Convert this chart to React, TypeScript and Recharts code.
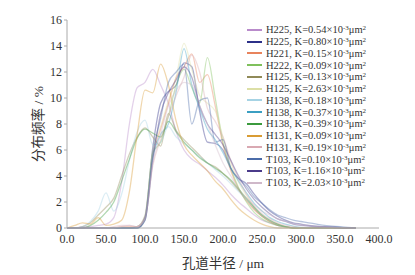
import React from 'react';
import { LineChart, Line, XAxis, YAxis, Legend } from 'recharts';

// pore radius (µm), sampled every 10 µm
const radius = [
  0, 10, 20, 30, 40, 50, 60, 70, 80, 90, 100, 110, 120, 130, 140, 150, 160, 170, 180,
  190, 200, 210, 220, 230, 240, 250, 260, 270, 280, 290, 300, 310, 320, 330, 340, 350, 360, 370,
];

const xTicks = [0, 50, 100, 150, 200, 250, 300, 350, 400];
const yTicks = [0, 2, 4, 6, 8, 10, 12, 14, 16];

// frequency (%) per sample
const h225a = [0, 0, 0.1, 0.1, 0.2, 0.3, 0.8, 3.5, 8.0, 10.8, 11.2, 12.2, 11.0, 9.6, 7.4, 6.0, 5.3, 4.9, 4.4, 3.9, 3.3, 2.6, 2.0, 1.5, 1.0, 0.6, 0.4, 0.2, 0.1, 0, 0, 0, 0, 0, 0, 0, 0, 0];
const h225b = [0, 0, 0, 0, 0, 0, 0, 0, 0, 0.1, 0.9, 6.2, 9.6, 10.5, 11.0, 12.7, 12.4, 9.0, 6.6, 6.5, 6.0, 4.6, 3.8, 3.4, 2.6, 1.9, 1.3, 0.9, 0.6, 0.4, 0.3, 0.2, 0.15, 0.1, 0.08, 0.05, 0, 0];
const h221 = [0, 0, 0, 0, 0, 0, 0, 0.1, 0.1, 0.1, 0.8, 5.6, 7.6, 9.6, 11.6, 12.4, 13.4, 11.2, 11.8, 9.4, 6.4, 4.4, 3.0, 2.1, 1.4, 0.9, 0.5, 0.3, 0.1, 0, 0, 0, 0, 0, 0, 0, 0, 0];
const h222 = [0, 0, 0, 0, 0, 0, 0, 0, 0, 0, 0.7, 5.8, 6.6, 8.6, 11.0, 12.2, 10.8, 9.6, 13.1, 10.0, 6.6, 4.6, 3.1, 2.0, 1.2, 0.7, 0.4, 0.2, 0.1, 0, 0, 0, 0, 0, 0, 0, 0, 0];
const h125a = [0, 0, 0.1, 0.4, 1.0, 1.6, 2.3, 4.0, 5.7, 7.0, 7.7, 7.0, 6.3, 8.8, 7.5, 6.8, 6.2, 5.6, 5.0, 4.7, 4.2, 3.6, 2.9, 2.2, 1.5, 0.9, 0.5, 0.2, 0.1, 0, 0, 0, 0, 0, 0, 0, 0, 0];
const h125b = [0, 0, 0, 0, 0, 0, 0, 0, 0, 0.1, 1.0, 6.0, 7.8, 9.8, 11.6, 14.2, 12.2, 10.2, 9.6, 9.0, 7.0, 5.0, 3.5, 2.5, 1.6, 1.0, 0.6, 0.3, 0.1, 0, 0, 0, 0, 0, 0, 0, 0, 0];
const h138a = [0, 0, 0.1, 0.5, 1.3, 2.7, 1.3, 2.6, 5.2, 7.4, 8.3, 6.4, 6.6, 7.8, 7.0, 6.5, 6.0, 5.5, 5.0, 4.5, 4.0, 3.4, 2.8, 2.2, 1.6, 1.0, 0.6, 0.3, 0.1, 0, 0, 0, 0, 0, 0, 0, 0, 0];
const h138b = [0, 0, 0, 0, 0, 0, 0, 0, 0, 0, 0.6, 5.4, 7.2, 8.0, 10.5, 13.8, 11.0, 9.2, 7.6, 6.8, 5.8, 4.6, 3.6, 2.7, 1.9, 1.3, 0.8, 0.5, 0.3, 0.15, 0.05, 0, 0, 0, 0, 0, 0, 0];
const h138c = [0, 0, 0, 0.2, 0.6, 1.2, 2.0, 3.6, 5.3, 6.9, 7.6, 7.3, 7.0, 8.2, 7.4, 6.6, 6.0, 5.4, 5.0, 4.6, 4.2, 3.7, 3.0, 2.3, 1.6, 1.0, 0.6, 0.3, 0.1, 0, 0, 0, 0, 0, 0, 0, 0, 0];
const h131a = [0, 0.2, 0.4, 0.3, 0.8, 0.2, 0.3, 0.6, 2.8, 7.2, 10.6, 10.4, 12.6, 11.0, 8.2, 6.4, 5.6, 5.0, 4.4, 3.6, 3.0, 2.2, 1.5, 1.0, 0.6, 0.3, 0.1, 0, 0, 0, 0, 0, 0, 0, 0, 0, 0, 0];
const h131b = [0, 0, 0, 0, 0, 0, 0.1, 0.2, 0.2, 0.1, 0.7, 4.8, 6.8, 8.6, 10.2, 11.6, 13.3, 12.0, 9.2, 8.2, 7.0, 5.2, 3.8, 2.6, 1.7, 1.1, 0.7, 0.4, 0.2, 0.1, 0, 0, 0, 0, 0, 0, 0, 0];
const t103a = [0, 0, 0, 0, 0, 0, 0, 0, 0, 0, 0.8, 5.8, 8.4, 11.2, 12.0, 12.6, 8.0, 9.8, 10.0, 6.6, 6.8, 4.6, 3.8, 3.2, 2.4, 1.9, 1.4, 1.0, 0.8, 0.6, 0.5, 0.4, 0.3, 0.2, 0.15, 0.1, 0.05, 0];
const t103b = [0, 0, 0, 0, 0, 0, 0, 0, 0, 0, 0.6, 5.2, 8.8, 10.4, 11.4, 12.4, 11.6, 9.4, 8.0, 7.2, 6.4, 5.2, 4.0, 3.0, 2.2, 1.6, 1.1, 0.7, 0.5, 0.3, 0.2, 0.15, 0.1, 0.08, 0.05, 0.02, 0, 0];
const t103c = [0, 0, 0, 0, 0, 0, 0, 0.1, 0.2, 0.1, 0.7, 5.0, 7.2, 9.4, 10.6, 11.2, 11.0, 9.4, 8.0, 6.4, 5.0, 4.0, 3.0, 2.3, 1.8, 1.3, 1.0, 0.7, 0.5, 0.35, 0.25, 0.18, 0.12, 0.08, 0.05, 0.03, 0.01, 0];

const series = [
  { key: 'h225a', name: 'H225', k: '0.54', color: '#b98bcb', values: h225a },
  { key: 'h225b', name: 'H225', k: '0.80', color: '#2c3088', values: h225b },
  { key: 'h221', name: 'H221', k: '0.15', color: '#e8835c', values: h221 },
  { key: 'h222', name: 'H222', k: '0.09', color: '#7fc05c', values: h222 },
  { key: 'h125a', name: 'H125', k: '0.13', color: '#908a58', values: h125a },
  { key: 'h125b', name: 'H125', k: '2.63', color: '#dcdfa6', values: h125b },
  { key: 'h138a', name: 'H138', k: '0.18', color: '#a6d3e4', values: h138a },
  { key: 'h138b', name: 'H138', k: '0.37', color: '#3b9fc2', values: h138b },
  { key: 'h138c', name: 'H138', k: '0.39', color: '#3b9a3d', values: h138c },
  { key: 'h131a', name: 'H131', k: '0.09', color: '#d99c34', values: h131a },
  { key: 'h131b', name: 'H131', k: '0.19', color: '#d9a9b2', values: h131b },
  { key: 't103a', name: 'T103', k: '0.10', color: '#4b6ca9', values: t103a },
  { key: 't103b', name: 'T103', k: '1.16', color: '#4b3b8a', values: t103b },
  { key: 't103c', name: 'T103', k: '2.03', color: '#cfb8c9', values: t103c },
];

const data = radius.map((x, i) => {
  const row: Record<string, number> = { x };
  series.forEach((s) => { row[s.key] = s.values[i]; });
  return row;
});

const serif = "Liberation Serif, Times New Roman, serif";
const cjk = "Liberation Serif, Noto Sans CJK SC, serif";
const axisGray = '#aaaaaa';
const textColor = '#333333';

function LegendBox() {
  return (
    <div style={{ fontFamily: serif, fontSize: 10.5, color: textColor }}>
      {series.map((s) => (
        <div key={s.key} style={{ height: 11.75, display: 'flex', alignItems: 'center', whiteSpace: 'nowrap' }}>
          <svg width={15} height={4} style={{ marginRight: 4 }}>
            <line x1={0} y1={2} x2={15} y2={2} stroke={s.color} strokeWidth={2} />
          </svg>
          <span>
            {s.name}, K={s.k}×10
            <span style={{ fontSize: 7, position: 'relative', top: -3 }}>-3</span>
            μm
            <span style={{ fontSize: 7, position: 'relative', top: -3 }}>2</span>
          </span>
        </div>
      ))}
    </div>
  );
}

export default function App() {
  return (
    <div style={{ position: 'absolute', left: 0, top: 0, width: 415, height: 275, background: '#fff', fontFamily: serif }}>
      <LineChart width={415} height={275} data={data} margin={{ top: 20, right: 36, bottom: 0, left: 9 }}>
        <XAxis
          dataKey="x"
          type="number"
          domain={[0, 400]}
          ticks={xTicks}
          tickFormatter={(v: number) => v.toFixed(1)}
          tickLine={false}
          tickSize={6}
          tickMargin={0}
          height={47}
          stroke={axisGray}
          tick={{ fill: textColor, fontSize: 12, fontFamily: serif }}
          label={{ value: '孔道半径 / μm', position: 'insideBottom', offset: 7, fill: textColor, fontSize: 13.5, fontFamily: cjk }}
        />
        <XAxis xAxisId="top" orientation="top" dataKey="x" type="number" domain={[0, 400]} height={0} tick={false} tickLine={false} stroke={axisGray} />
        <YAxis
          type="number"
          domain={[0, 16]}
          ticks={yTicks}
          width={58}
          tickSize={3}
          tickMargin={2}
          stroke={axisGray}
          tick={{ fill: textColor, fontSize: 12, fontFamily: serif }}
          label={{ value: '分布频率 / %', angle: -90, position: 'center', fill: textColor, fontSize: 13.5, fontFamily: cjk }}
        />
        <YAxis yAxisId="right" orientation="right" domain={[0, 16]} width={0} tick={false} tickLine={false} stroke={axisGray} />
        {series.map((s) => (
          <Line
            key={s.key}
            dataKey={s.key}
            name={`${s.name}, K=${s.k}`}
            type="monotone"
            stroke={s.color}
            strokeOpacity={0.4}
            strokeWidth={1.3}
            dot={false}
            isAnimationActive={false}
          />
        ))}
        <Legend
          layout="vertical"
          align="center"
          verticalAlign="middle"
          content={() => <LegendBox />}
          wrapperStyle={{ top: 24, left: 247, width: 132, height: 'auto' }}
        />
      </LineChart>
    </div>
  );
}
